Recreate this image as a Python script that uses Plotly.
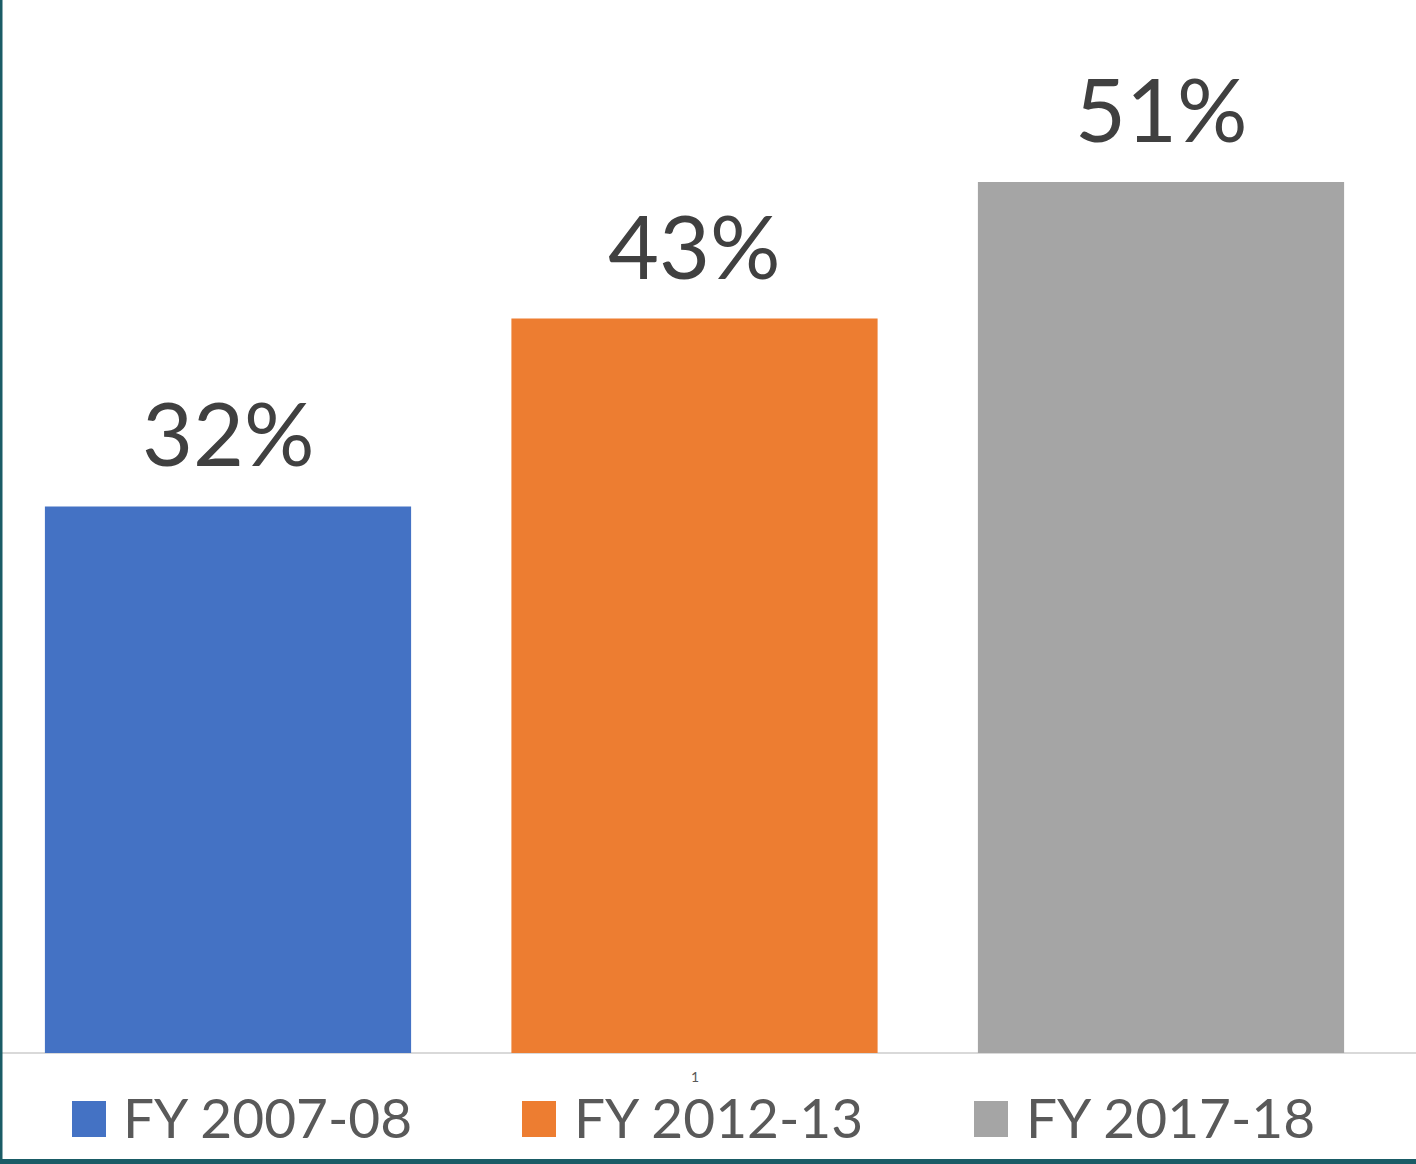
import plotly.graph_objects as go

categories = ["FY 2007-08", "FY 2012-13", "FY 2017-18"]
values = [32, 43, 51]
labels = ["32%", "43%", "51%"]
colors = ["#4472C4", "#ED7D31", "#A5A5A5"]

W, H = 1416, 1164
L, R, T, B = 2, 0, 0, 111
PW, PH = W - L - R, H - T - B

def px_x(px):
    return (px - L) / PW

def px_y(py):
    return (T + PH - py) / PH

fig = go.Figure()
fig.add_trace(go.Bar(
    x=categories, y=values, width=0.785,
    marker=dict(color=colors, line=dict(width=0)),
    showlegend=False, hoverinfo="skip",
))

annotations = []
for c, v, t in zip(categories, values, labels):
    annotations.append(dict(
        x=c, y=v, xref="x", yref="y", text=t, showarrow=False,
        yanchor="bottom", yshift=19,
        font=dict(family="Lato", size=88, color="#404040"),
    ))

shapes = []
legend_icon_px = [72, 522, 974]
legend_text_px = [121, 572, 1024]
for i, (c, col) in enumerate(zip(categories, colors)):
    shapes.append(dict(
        type="rect", xref="paper", yref="paper",
        x0=px_x(legend_icon_px[i]), x1=px_x(legend_icon_px[i] + 34),
        y0=px_y(1137), y1=px_y(1101),
        fillcolor=col, line=dict(width=0),
    ))
    annotations.append(dict(
        x=px_x(legend_text_px[i]), y=px_y(1117), xref="paper", yref="paper",
        text=c, showarrow=False, xanchor="left", yanchor="middle",
        font=dict(family="Lato", size=55, color="#595959"),
    ))

# small page-number artifact
annotations.append(dict(
    x=px_x(695), y=px_y(1076), xref="paper", yref="paper", text="1",
    showarrow=False, xanchor="center", yanchor="middle",
    font=dict(family="Lato", size=14, color="#595959"),
))

# dark teal frame (left and bottom)
shapes.append(dict(type="rect", xref="paper", yref="paper",
                   x0=px_x(0), x1=px_x(2.5), y0=px_y(H), y1=px_y(0),
                   fillcolor="#1A5C66", line=dict(width=0), layer="above"))
shapes.append(dict(type="rect", xref="paper", yref="paper",
                   x0=px_x(0), x1=px_x(W), y0=px_y(H), y1=px_y(1159),
                   fillcolor="#1A5C66", line=dict(width=0), layer="above"))

fig.update_layout(
    width=W, height=H,
    margin=dict(l=L, r=R, t=T, b=B, pad=0),
    paper_bgcolor="white", plot_bgcolor="white",
    bargap=0.215,
    xaxis=dict(range=[(2 - 228) / 466.5, (1416 - 228) / 466.5],
               showticklabels=False, showgrid=False, zeroline=False,
               showline=False, ticks="", fixedrange=True),
    yaxis=dict(range=[0, 1053 / 17.08], showticklabels=False, showgrid=False,
               zeroline=True, zerolinecolor="#D9D9D9", zerolinewidth=2,
               showline=False, ticks="", fixedrange=True),
    annotations=annotations,
    shapes=shapes,
)

fig.write_html(
    "out.html",
    config={"displayModeBar": False},
    post_script="document.body.style.margin='0';document.body.style.overflow='hidden';",
)
